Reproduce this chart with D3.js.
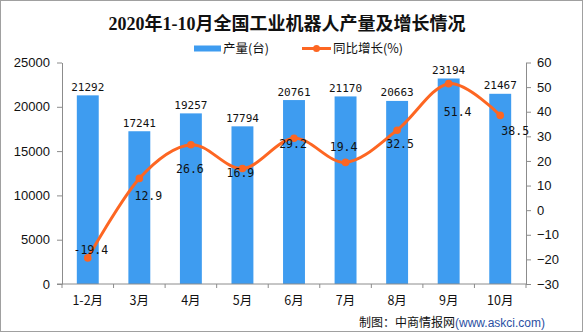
<!DOCTYPE html>
<html><head><meta charset="utf-8">
<script src="https://cdn.jsdelivr.net/npm/d3@7/dist/d3.min.js"></script>
<style>body{margin:0;background:#fff;}svg{display:block;}</style>
</head><body>
<svg id="c" width="584" height="334"></svg>
<script>
const categories = ["1-2月","3月","4月","5月","6月","7月","8月","9月","10月"];
const production = [21292,17241,19257,17794,20761,21170,20663,23194,21467];
const growth = [-19.4,12.9,26.6,16.9,29.2,19.4,32.5,51.4,38.5];
const leftTicks = [0,5000,10000,15000,20000,25000];
const rightTicks = [-30,-20,-10,0,10,20,30,40,50,60];
// label placement offsets (layout only)
const growthLabelOffsets = [[3,-8],[9,18],[-1,24],[-2,4],[-1,6],[-2,-15],[3,14],[9,28],[15,16]];

const svg = d3.select("#c");
const W = 584, H = 334;
const m = {left:62, right:526, top:62.5, bottom:284};
const barColor = "#3e9cf0", lineColor = "#fd6622", axisColor = "#8c8c8c";
const monoFont = "'DejaVu Sans Mono', monospace";
const sansFont = "'Liberation Sans', Arial, sans-serif";
const cjkFont = "'Noto Sans CJK SC', sans-serif";

svg.append("rect").attr("x",0.5).attr("y",0.5).attr("width",582).attr("height",331)
  .attr("fill","#fff").attr("stroke","#a0a0a0");

const x = d3.scaleBand().domain(categories).range([m.left,m.right]).padding(0);
const yL = d3.scaleLinear().domain([0,25000]).range([m.bottom,m.top]);
const yR = d3.scaleLinear().domain([-30,60]).range([m.bottom,m.top]);
const bw = x.bandwidth()*0.425;

// title
svg.append("text").attr("x",287).attr("y",30).attr("text-anchor","middle")
  .attr("font-family","'Liberation Serif', 'Noto Sans CJK SC', serif").attr("font-weight","bold")
  .attr("font-size",18).attr("fill","#111").text("2020年1-10月全国工业机器人产量及增长情况");

// legend
const lg = svg.append("g");
lg.append("rect").attr("x",194).attr("y",45.5).attr("width",27).attr("height",6).attr("fill",barColor);
lg.append("text").attr("x",223).attr("y",53).attr("font-family",cjkFont).attr("font-size",12.5).attr("fill","#111").text("产量(台)");
lg.append("line").attr("x1",302).attr("x2",331).attr("y1",48.5).attr("y2",48.5).attr("stroke",lineColor).attr("stroke-width",3);
lg.append("circle").attr("cx",316.5).attr("cy",48.5).attr("r",3.5).attr("fill",lineColor);
lg.append("text").attr("x",333).attr("y",53).attr("font-family",cjkFont).attr("font-size",12.5).attr("fill","#111").text("同比增长(%)");

// bars
svg.append("g").selectAll("rect").data(production).join("rect")
  .attr("x",(d,i)=>x(categories[i])+x.bandwidth()/2-bw/2)
  .attr("width",bw)
  .attr("y",d=>yL(d)).attr("height",d=>yL(0)-yL(d)).attr("fill",barColor);

svg.append("g").selectAll("text").data(production).join("text")
  .attr("x",(d,i)=>x(categories[i])+x.bandwidth()/2)
  .attr("y",d=>yL(d)-4.5).attr("text-anchor","middle")
  .attr("font-family",monoFont).attr("font-size",11).attr("fill","#111").text(d=>d);

// axes
function styleAxis(g){
  g.selectAll(".domain").attr("stroke",axisColor);
  g.selectAll(".tick line").attr("stroke",axisColor);
  g.selectAll(".tick text").attr("fill","#111");
}
const axL = svg.append("g").attr("transform",`translate(${m.left},0)`)
  .call(d3.axisLeft(yL).tickValues(leftTicks).tickSize(5).tickPadding(7).tickSizeOuter(0).tickFormat(d3.format("d")))
  .attr("font-family",sansFont).attr("font-size",13);
styleAxis(axL);
const axR = svg.append("g").attr("transform",`translate(${m.right},0)`)
  .call(d3.axisRight(yR).tickValues(rightTicks).tickSize(5).tickPadding(6).tickSizeOuter(0).tickFormat(d=>d<0?"\u2212"+Math.abs(d):d))
  .attr("font-family",sansFont).attr("font-size",13);
styleAxis(axR);

const axB = svg.append("g").attr("transform",`translate(0,${m.bottom})`);
axB.append("line").attr("x1",m.left-5).attr("x2",m.right).attr("stroke",axisColor);
const bounds = categories.map(c=>x(c)).concat([m.right]);
axB.selectAll("line.tk").data(bounds).join("line").attr("class","tk")
  .attr("x1",d=>d).attr("x2",d=>d).attr("y1",0).attr("y2",4).attr("stroke",axisColor);
axB.selectAll("text").data(categories).join("text")
  .attr("x",d=>x(d)+x.bandwidth()/2).attr("y",20.5).attr("text-anchor","middle")
  .attr("font-family",cjkFont).attr("font-size",12.5).attr("fill","#111").text(d=>d);

// line
const pts = growth.map((v,i)=>[x(categories[i])+x.bandwidth()/2, yR(v)]);
svg.append("path").attr("d",d3.line().curve(d3.curveCatmullRom.alpha(0))(pts))
  .attr("fill","none").attr("stroke",lineColor).attr("stroke-width",3);
svg.append("g").selectAll("circle").data(pts).join("circle")
  .attr("cx",d=>d[0]).attr("cy",d=>d[1]).attr("r",3.8).attr("fill",lineColor);
svg.append("g").selectAll("text").data(growth).join("text")
  .attr("x",(d,i)=>pts[i][0]+growthLabelOffsets[i][0])
  .attr("y",(d,i)=>pts[i][1]+growthLabelOffsets[i][1]+4)
  .attr("text-anchor","middle").attr("font-family",monoFont).attr("font-size",11.5).attr("fill","#111")
  .text(d=>d.toFixed(1));

// footer
const ft = svg.append("text").attr("x",545).attr("y",327).attr("text-anchor","end").attr("font-size",12);
ft.append("tspan").attr("font-family",cjkFont).attr("fill","#111").text("制图：中商情报网");
ft.append("tspan").attr("font-family",sansFont).attr("fill","#2b4fa3").text("(www.askci.com)");
</script>
</body></html>
